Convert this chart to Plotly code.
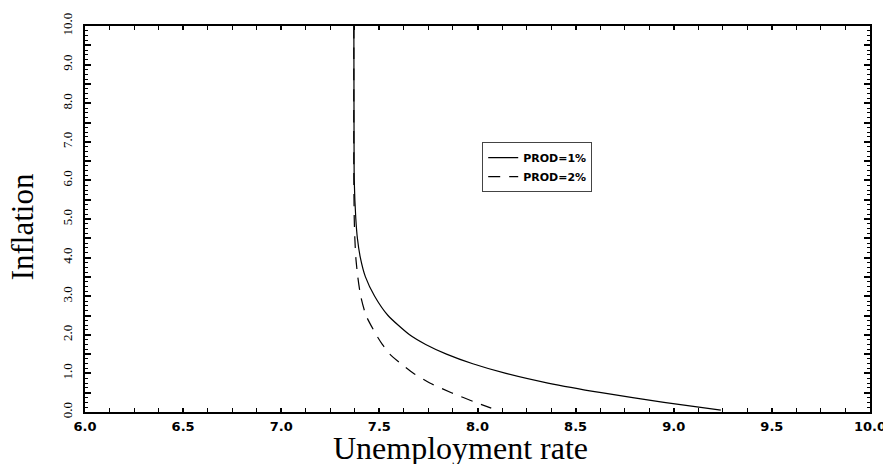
import plotly.graph_objects as go

# Data (unemployment rate vs inflation)
prod1_unemp = [7.370, 7.371, 7.372, 7.380, 7.388, 7.403, 7.429, 7.476, 7.544, 7.654,
               7.736, 7.842, 7.976, 8.145, 8.359, 8.631, 8.950, 9.240]
prod1_infl = [10.0, 7.0, 6.0, 5.0, 4.5, 4.0, 3.5, 3.0, 2.5, 2.0,
              1.75, 1.5, 1.25, 1.0, 0.75, 0.5, 0.25, 0.05]

prod2_unemp = [7.370, 7.370, 7.372, 7.375, 7.380, 7.390, 7.405, 7.432, 7.484, 7.515,
               7.553, 7.610, 7.675, 7.757, 7.867, 7.990, 8.070]
prod2_infl = [10.0, 6.0, 5.0, 4.5, 4.0, 3.5, 3.0, 2.5, 2.0, 1.75,
              1.5, 1.25, 1.0, 0.75, 0.5, 0.25, 0.1]

series_names = ["PROD=1%", "PROD=2%"]
x_tick_labels = ["6.0", "6.5", "7.0", "7.5", "8.0", "8.5", "9.0", "9.5", "10.0"]
y_tick_labels = ["0.0", "1.0", "2.0", "3.0", "4.0", "5.0", "6.0", "7.0", "8.0", "9.0", "10.0"]

x_tickvals = [float(t) for t in x_tick_labels]
y_tickvals = []
y_ticktext = []
for lab in y_tick_labels:
    v = float(lab)
    y_tickvals.append(v)
    y_ticktext.append(lab)
    if v < 10:
        y_tickvals.append(v + 0.5)
        y_ticktext.append("")

fig = go.Figure()
fig.add_trace(go.Scatter(x=prod1_unemp, y=prod1_infl, mode="lines", name=series_names[0],
                         line=dict(color="black", width=1.2, shape="spline", smoothing=0.6)))
fig.add_trace(go.Scatter(x=prod2_unemp, y=prod2_infl, mode="lines", name=series_names[1],
                         line=dict(color="black", width=1.2, dash="12px,9px",
                                   shape="spline", smoothing=0.6)))

# The page body has an 8px default margin, so the figure is sized/offset to compensate.
fig.update_layout(
    width=883, height=456,
    margin=dict(l=77, r=21, t=18, b=52),
    paper_bgcolor="white", plot_bgcolor="white",
    showlegend=True,
    legend=dict(x=0.506, y=0.699, xanchor="left", yanchor="top",
                bgcolor="white", bordercolor="#444", borderwidth=1,
                font=dict(family="DejaVu Sans", size=11, color="black", weight="bold"),
                tracegroupgap=0, itemwidth=30),
    xaxis=dict(range=[6, 10], tickvals=x_tickvals, ticktext=x_tick_labels,
               ticks="inside", ticklen=4, tickwidth=1.5, tickcolor="black",
               showline=True, linewidth=2, linecolor="black", mirror="ticks",
               showgrid=False, zeroline=False, automargin=False,
               tickfont=dict(family="DejaVu Sans", size=13, color="black", weight="bold"),
               ticklabelstandoff=1,
               minor=dict(dtick=0.125, ticks="inside", ticklen=4, tickwidth=1, tickcolor="black",
                          showgrid=False)),
    yaxis=dict(range=[0, 10], tickvals=y_tickvals, ticktext=y_ticktext,
               ticks="inside", ticklen=6, tickwidth=1.5, tickcolor="black",
               showline=True, linewidth=2, linecolor="black", mirror="ticks",
               showgrid=False, zeroline=False, tickangle=-90, automargin=False,
               tickfont=dict(family="Liberation Serif", size=13, color="black"),
               ticklabelstandoff=6,
               minor=dict(dtick=0.125, ticks="inside", ticklen=3, tickwidth=1, tickcolor="black",
                          showgrid=False)),
    annotations=[
        dict(text="Unemployment rate", xref="paper", yref="paper", x=0.478, y=-0.093,
             xanchor="center", yanchor="middle", showarrow=False,
             font=dict(family="Liberation Serif", size=32, color="black")),
        dict(text="Inflation", xref="paper", yref="paper", x=-0.080, y=0.479,
             xanchor="center", yanchor="middle", showarrow=False, textangle=-90,
             font=dict(family="Liberation Serif", size=31, color="black")),
    ],
)

fig.write_html("out.html")
